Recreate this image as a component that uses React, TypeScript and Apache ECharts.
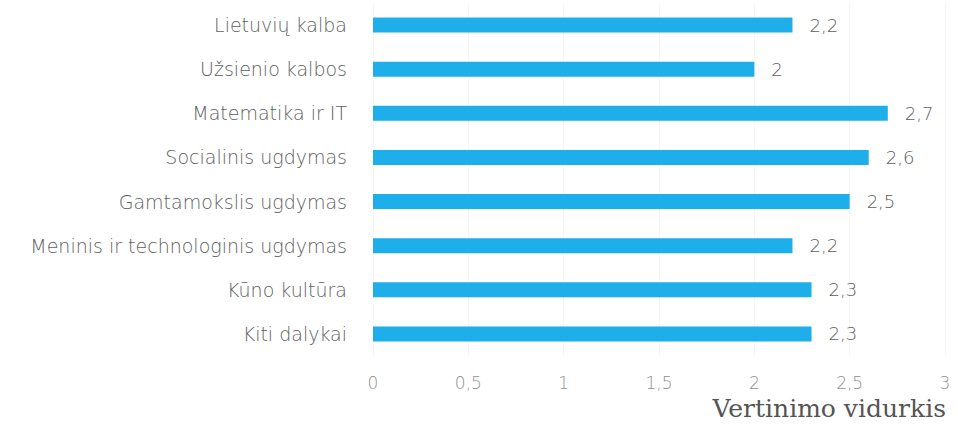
import React, { useEffect, useRef } from "react";
import * as echarts from "echarts";

const categories = [
  "Lietuvių kalba",
  "Užsienio kalbos",
  "Matematika ir IT",
  "Socialinis ugdymas",
  "Gamtamokslis ugdymas",
  "Meninis ir technologinis ugdymas",
  "Kūno kultūra",
  "Kiti dalykai",
];
const values = [2.2, 2.0, 2.7, 2.6, 2.5, 2.2, 2.3, 2.3];
const axisName = "Vertinimo vidurkis";

const fmt = (v: number) => String(v).replace(".", ",");

export default function App() {
  const ref = useRef<HTMLDivElement>(null);
  useEffect(() => {
    document.body.style.margin = "0";
    const chart = echarts.init(ref.current!, null, { renderer: "svg" });
    chart.setOption({
      animation: false,
      backgroundColor: "#ffffff",
      grid: { left: 373, right: 13, top: 3, bottom: 68, containLabel: false },
      xAxis: {
        type: "value",
        min: 0,
        max: 3,
        interval: 0.5,
        axisLine: { show: false },
        axisTick: { show: false },
        splitLine: { show: true, lineStyle: { color: "#f6f6f6", width: 1 } },
        axisLabel: {
          formatter: (v: number) => fmt(v),
          color: "#909090",
          fontFamily: "DejaVu Sans",
          fontWeight: 300,
          fontSize: 17,
          margin: 18,
        },
      },
      yAxis: {
        type: "category",
        data: categories,
        inverse: true,
        axisLine: { show: false },
        axisTick: { show: false },
        splitLine: { show: false },
        axisLabel: {
          color: "#5e5e5e",
          fontFamily: "DejaVu Sans",
          fontWeight: 300,
          fontSize: 19,
          margin: 26,
        },
      },
      series: [
        {
          type: "bar",
          data: values,
          barWidth: 15,
          itemStyle: { color: "#1eaeea" },
          label: {
            show: true,
            position: "right",
            distance: 17,
            formatter: (p: any) => fmt(p.value),
            color: "#5e5e5e",
            fontFamily: "DejaVu Sans",
            fontWeight: 300,
            fontSize: 18,
          },
        },
      ],
      graphic: [
        {
          type: "text",
          right: 12,
          top: 396,
          style: {
            text: axisName,
            fill: "#555555",
            font: '25px "DejaVu Serif", "Liberation Serif", serif',
          },
        },
      ],
    });
    return () => chart.dispose();
  }, []);
  return <div ref={ref} style={{ width: 958, height: 424 }} />;
}
